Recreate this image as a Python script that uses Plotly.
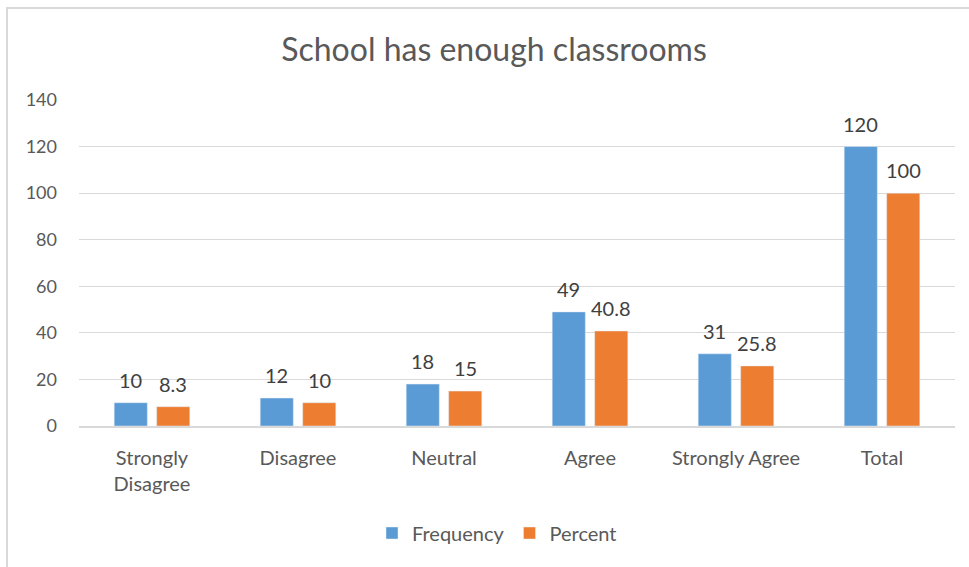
import plotly.graph_objects as go

# Survey responses: "School has enough classrooms"
categories = ["Strongly<br>Disagree", "Disagree", "Neutral", "Agree", "Strongly Agree", "Total"]
frequency = [10, 12, 18, 49, 31, 120]
percent = [8.3, 10, 15, 40.8, 25.8, 100]
y_ticks = [0, 20, 40, 60, 80, 100, 120, 140]

BLUE = "#5B9BD5"
ORANGE = "#ED7D31"
TEXT = "#595959"
GRID = "#D9D9D9"
FONT = "Lato"

W, H = 969, 567
ML, MR, MT, MB = 79, 14, 100, 141
PW, PH = W - ML - MR, H - MT - MB

fig = go.Figure()
fig.add_trace(go.Bar(name="Frequency", x=categories, y=frequency, marker_color=BLUE))
fig.add_trace(go.Bar(name="Percent", x=categories, y=percent, marker_color=ORANGE))

# value labels above each bar
offset = 21.25
for cat, f, p in zip(categories, frequency, percent):
    for val, dx in ((f, -offset), (p, offset)):
        fig.add_annotation(x=cat, y=val, text=f"{val:g}", showarrow=False,
                           xshift=dx, yshift=23, yanchor="middle",
                           font=dict(family=FONT, size=20, color="#404040"))

# chart-area outline
def px_x(px):
    return (px - ML) / PW

def px_y(py):
    return 1 - (py - MT) / PH

fig.add_shape(type="rect", xref="paper", yref="paper",
              x0=px_x(7), x1=px_x(990), y0=px_y(8), y1=px_y(590),
              line=dict(color=GRID, width=2), fillcolor="rgba(0,0,0,0)", layer="below")

fig.update_layout(
    width=W, height=H,
    margin=dict(l=ML, r=MR, t=MT, b=MB),
    paper_bgcolor="white", plot_bgcolor="white",
    barmode="group", bargap=0.418, bargroupgap=0.22,
    font=dict(family=FONT, size=17, color=TEXT),
    title=dict(text="School has enough classrooms", x=px_x(494), xanchor="center",
               y=1 - 50 / H, yanchor="middle", xref="paper", yref="container",
               font=dict(family=FONT, size=32, color=TEXT)),
    legend=dict(orientation="h", x=px_x(497), xanchor="center", y=px_y(533), yanchor="middle",
                font=dict(family=FONT, size=20, color=TEXT), itemwidth=30,
                traceorder="normal"),
    xaxis=dict(showgrid=False, showline=True, linecolor=GRID, linewidth=1.5,
               ticks="", ticklabelstandoff=13, tickfont=dict(size=20, color=TEXT)),
    yaxis=dict(range=[0, 140], tickvals=y_ticks, showgrid=True, gridcolor=GRID, gridwidth=1,
               zeroline=False, showline=False, ticks="", ticklabelstandoff=21,
               tickfont=dict(size=18, color=TEXT)),
)

fig.write_html("out.html")
